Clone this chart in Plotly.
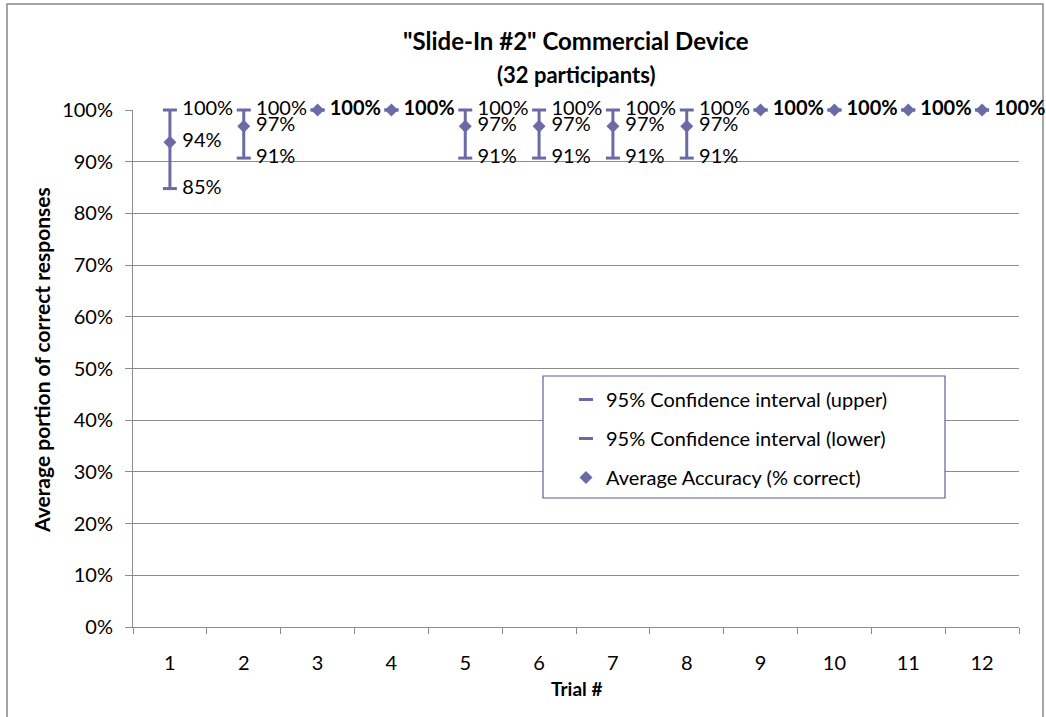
import plotly.graph_objects as go

trials = ["1", "2", "3", "4", "5", "6", "7", "8", "9", "10", "11", "12"]
mean_acc = [0.9375, 0.96875, 1.0, 1.0, 0.96875, 0.96875, 0.96875, 0.96875, 1.0, 1.0, 1.0, 1.0]
ci_upper = [1.0, 1.0, 1.0, 1.0, 1.0, 1.0, 1.0, 1.0, 1.0, 1.0, 1.0, 1.0]
ci_lower = [0.848, 0.907, 1.0, 1.0, 0.907, 0.907, 0.907, 0.907, 1.0, 1.0, 1.0, 1.0]

COLOR = "#6a6aa6"
FONT = "Lato"
GRID = "#8c8c8c"

# plot area in pixels (from the reference)
L, R, T, B = 133, 1019, 110, 627
W, H = R - L, B - T


def px_x(x):
    return (x - L) / W


def px_y(y):
    return (B - y) / H


def pct(v):
    return f" {round(v * 100):.0f}%"


same = [u == lo for u, lo in zip(ci_upper, ci_lower)]
upper_txt = ["" if s else pct(v) for s, v in zip(same, ci_upper)]
lower_txt = ["" if s else pct(v) for s, v in zip(same, ci_lower)]
mean_txt = [f"<b>{pct(v)}</b>" if s else pct(v) for s, v in zip(same, mean_acc)]

fig = go.Figure()
fig.add_trace(go.Scatter(
    x=trials, y=ci_upper, mode="markers+text", name="95% Confidence interval (upper)",
    marker=dict(symbol="line-ew", size=10, line=dict(color=COLOR, width=3)),
    text=upper_txt, textposition="middle right", legendgroup="a",
))
fig.add_trace(go.Scatter(
    x=trials, y=ci_lower, mode="markers+text", name="95% Confidence interval (lower)",
    marker=dict(symbol="line-ew", size=10, line=dict(color=COLOR, width=3)),
    text=lower_txt, textposition="middle right", legendgroup="b",
))
fig.add_trace(go.Scatter(
    x=trials, y=mean_acc, mode="markers+text", name="Average Accuracy (% correct)",
    marker=dict(symbol="diamond", size=10, color=COLOR),
    error_y=dict(type="data", symmetric=False,
                 array=[u - m for u, m in zip(ci_upper, mean_acc)],
                 arrayminus=[m - lo for m, lo in zip(mean_acc, ci_lower)],
                 color=COLOR, thickness=3, width=0),
    text=mean_txt, textposition="middle right", legendgroup="c",
))

fig.update_traces(textfont=dict(family=FONT, size=20, color="#000000"), cliponaxis=False)

fig.update_layout(
    width=1046, height=717,
    margin=dict(l=L, r=1046 - R, t=T, b=717 - B, pad=0),
    paper_bgcolor="white", plot_bgcolor="white",
    font=dict(family=FONT, size=20, color="#000000"),
    showlegend=True,
    legend=dict(x=px_x(566), y=px_y(380), xanchor="left", yanchor="top",
                borderwidth=0, bgcolor="rgba(0,0,0,0)",
                font=dict(family=FONT, size=20), tracegroupgap=10,
                traceorder="grouped", itemwidth=30),
    xaxis=dict(type="category", range=[-0.5, 11.5], tickson="boundaries",
               ticks="outside", ticklen=6, tickcolor=GRID, showline=True,
               linecolor=GRID, showgrid=False, ticklabelstandoff=18,
               tickfont=dict(size=20)),
    yaxis=dict(range=[0, 1], dtick=0.1, tickformat=".0%", ticks="outside", ticklen=7,
               tickcolor=GRID, showline=True, linecolor=GRID, gridcolor=GRID,
               gridwidth=1, zeroline=False, ticklabelstandoff=8,
               tickfont=dict(size=20)),
    annotations=[
        dict(text='<b>"Slide-In #2" Commercial Device</b>', xref="paper", yref="paper",
             x=0.5, y=px_y(40), xanchor="center", yanchor="middle",
             showarrow=False, font=dict(size=24)),
        dict(text="<b>(32 participants)</b>", xref="paper", yref="paper",
             x=0.5, y=px_y(75), xanchor="center", yanchor="middle",
             showarrow=False, font=dict(size=22)),
        dict(text="<b>Trial #</b>", xref="paper", yref="paper",
             x=0.5, y=px_y(688), xanchor="center", yanchor="middle",
             showarrow=False, font=dict(size=19)),
        dict(text="<b>Average portion of correct responses</b>", xref="paper", yref="paper",
             x=px_x(41), y=px_y(360), xanchor="center", yanchor="middle",
             showarrow=False, textangle=-90, font=dict(size=21)),
    ],
    shapes=[
        dict(type="rect", xref="paper", yref="paper",
             x0=px_x(7), x1=px_x(1043), y0=px_y(730), y1=px_y(4),
             line=dict(color="#888888", width=1.5), layer="below"),
        dict(type="rect", xref="paper", yref="paper",
             x0=px_x(543), x1=px_x(945), y0=px_y(498), y1=px_y(376),
             line=dict(color="#5f5f9f", width=1.2), fillcolor="white", layer="above"),
    ],
)

fig.write_html("out.html", config={"displayModeBar": False},
               post_script="document.body.style.margin='0px';")
